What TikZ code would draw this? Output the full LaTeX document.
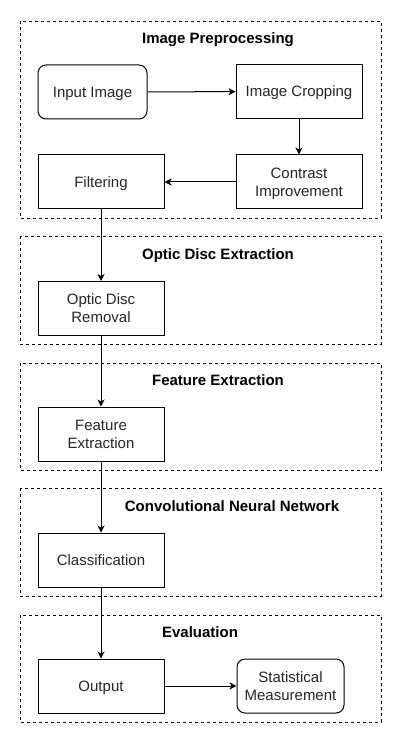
\documentclass[tikz,border=0pt]{standalone}
\usepackage{fontspec}
\setmainfont{Liberation Sans}
\usetikzlibrary{arrows.meta}
\begin{document}
\begin{tikzpicture}[x=1pt,y=-1pt,
  every node/.style={font=\fontsize{15}{18}\selectfont},
  box/.style={draw, line width=1pt, minimum width=126pt, minimum height=54pt, align=center, inner sep=0pt, text depth=0pt, text=black!85},
  rbox/.style={box, rounded corners=8pt},
  group/.style={draw, line width=0.8pt, dash pattern=on 3pt off 3pt},
  gtitle/.style={font=\fontsize{15}{18}\selectfont\bfseries, text depth=0pt},
  conn/.style={line width=1pt, -{Stealth[length=7pt,width=7pt,inset=2pt]}}]
\useasboundingbox (0,0) rectangle (401,743);
\fill[white] (0,0) rectangle (401,743);
% groups
\draw[group] (20,21) rectangle (381,218);
\draw[group] (20,236) rectangle (381,344);
\draw[group] (20,363) rectangle (381,470);
\draw[group] (20,488) rectangle (381,596);
\draw[group] (20,615) rectangle (381,722);
\node[gtitle] (t1) at (218,38) {Image Preprocessing};
\node[gtitle] (t2) at (218,254) {Optic Disc Extraction};
\node[gtitle] (t3) at (218,380) {Feature Extraction};
\node[gtitle] (t4) at (232,506) {Convolutional Neural Network};
\node[gtitle] (t5) at (200,632) {Evaluation};
% nodes
\node[rbox, minimum width=109pt] (input) at (92.5,92) {Input Image};
\node[box] (crop) at (299,91.5) {Image Cropping};
\node[box] (contrast) at (299,182) {Contrast\\Improvement};
\node[box] (filter) at (101,182) {Filtering};
\node[box] (optic) at (101,308.5) {Optic Disc\\Removal};
\node[box] (feat) at (101,434) {Feature\\Extraction};
\node[box] (cls) at (101,560) {Classification};
\node[box] (out) at (101,686) {Output};
\node[rbox, minimum width=107pt] (stat) at (290.5,686) {Statistical\\Measurement};
% connectors
\draw[conn] (input) -- (crop);
\draw[conn] (crop) -- (contrast);
\draw[conn] (contrast) -- (filter);
\draw[conn] (filter) -- (optic);
\draw[conn] (optic) -- (feat);
\draw[conn] (feat) -- (cls);
\draw[conn] (cls) -- (out);
\draw[conn] (out) -- (stat);
\end{tikzpicture}
\end{document}
